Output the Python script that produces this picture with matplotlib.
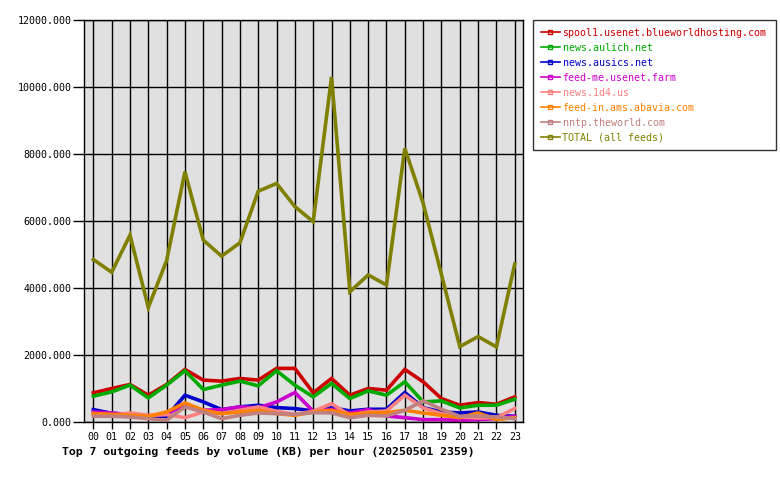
import matplotlib
matplotlib.use("Agg")
import matplotlib.pyplot as plt
from matplotlib.lines import Line2D

W, H = 780, 480
plt.rcParams.update({"font.family": "DejaVu Sans Mono", "font.size": 7.2})

hours = [f"{h:02d}" for h in range(24)]

feeds = ["spool1.usenet.blueworldhosting.com", "news.aulich.net", "news.ausics.net",
         "feed-me.usenet.farm", "news.1d4.us", "feed-in.ams.abavia.com",
         "nntp.theworld.com", "TOTAL (all feeds)"]
colors = ["#CC0000", "#00AA00", "#0000CC", "#CC00CC", "#FF8080", "#FF8000",
          "#C08080", "#808000"]

spool1 = [870, 1000, 1120, 800, 1120, 1570, 1250, 1220, 1300, 1250, 1600, 1600,
          870, 1300, 800, 1000, 950, 1570, 1200, 700, 500, 580, 530, 750]
aulich = [770, 900, 1100, 720, 1100, 1530, 970, 1100, 1220, 1080, 1530, 1100,
          750, 1150, 700, 930, 800, 1200, 600, 630, 420, 500, 500, 680]
ausics = [370, 260, 220, 170, 160, 800, 600, 370, 450, 500, 430, 400,
          330, 430, 330, 380, 380, 880, 430, 300, 270, 300, 200, 170]
feedme = [300, 270, 220, 170, 250, 500, 350, 370, 450, 420, 600, 880,
          320, 380, 270, 370, 180, 130, 70, 70, 50, 70, 100, 170]
n1d4 = [250, 200, 270, 200, 220, 130, 300, 250, 350, 450, 320, 230,
        320, 550, 200, 300, 330, 800, 420, 250, 150, 120, 130, 400]
abavia = [250, 230, 200, 170, 300, 570, 350, 250, 300, 350, 250, 200,
          300, 350, 230, 270, 280, 350, 270, 200, 130, 270, 70, 130]
theworld = [170, 170, 150, 100, 50, 450, 300, 100, 200, 270, 250, 230,
            280, 270, 130, 200, 180, 350, 630, 380, 170, 180, 150, 100]
total = [4850, 4470, 5580, 3420, 4820, 7470, 5430, 4950, 5350, 6890, 7120, 6430,
         5980, 10300, 3890, 4390, 4090, 8170, 6530, 4400, 2250, 2550, 2240, 4720]
series = [spool1, aulich, ausics, feedme, n1d4, abavia, theworld, total]

fig = plt.figure(figsize=(W / 100, H / 100), dpi=100)
ax = fig.add_axes([84 / W, 1 - 422 / H, (523 - 84) / W, (422 - 20) / H])
ax.set_facecolor("#E0E0E0")

x = list(range(24))
# drawn in dataset order, later ones on top (TOTAL last)
for vals, col in zip(series, colors):
    ax.plot(x, vals, color=col, lw=2.6, solid_joinstyle="miter")

ax.set_xlim(-0.51, 23.45)
ax.set_ylim(0, 12000)
ax.set_xticks(x)
ax.set_xticklabels(hours)
ax.set_yticks(range(0, 12001, 2000))
ax.set_yticklabels([f"{v:.3f}" for v in range(0, 12001, 2000)])
ax.grid(True, color="black", lw=1)
ax.set_axisbelow(True)
ax.tick_params(axis="y", length=8, width=1, direction="out", pad=1, labelsize=7.2)
ax.tick_params(axis="x", length=5, width=1, direction="out", pad=2, labelsize=7.2)
for s in ax.spines.values():
    s.set_color("black"); s.set_linewidth(1)

fig.text(62 / W, 1 - 452 / H, "Top 7 outgoing feeds by volume (KB) per hour (20250501 2359)",
         fontsize=8.25, fontweight="bold", ha="left", va="center")

handles = [Line2D([0], [0], color=c, lw=1.2, marker="s", ms=3, mfc="none", mec=c, mew=1)
           for c in colors]
leg = fig.legend(handles, feeds, loc="upper left",
                 bbox_to_anchor=(533 / W, 1 - 150 / H, (776 - 533) / W, 130 / H),
                 mode="expand", frameon=True, fancybox=False, borderaxespad=0,
                 handlelength=1.9, handletextpad=0.3, labelspacing=0.5, fontsize=7.2,
                 borderpad=0.75)
leg.get_frame().set_edgecolor("black")
leg.get_frame().set_linewidth(1)
for t, c in zip(leg.get_texts(), colors):
    t.set_color(c)

fig.savefig("out.png", dpi=100, facecolor="white")
